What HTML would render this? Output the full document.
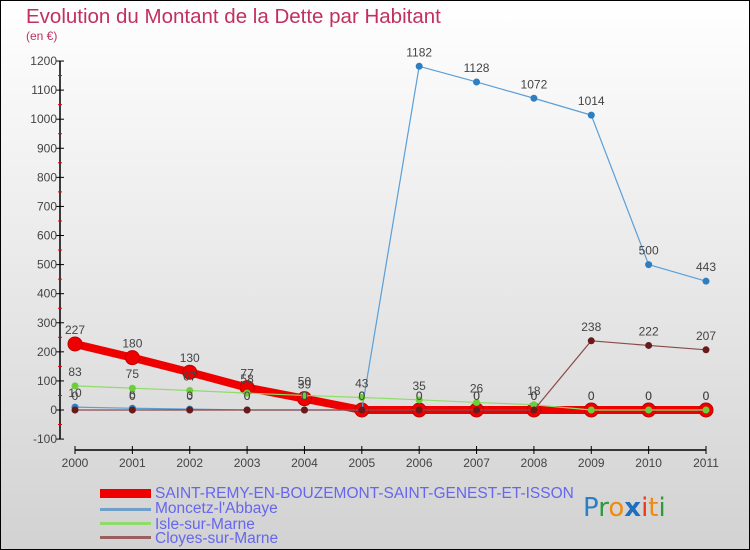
<!DOCTYPE html>
<html><head><meta charset="utf-8"><style>
html,body{margin:0;padding:0;width:750px;height:550px;overflow:hidden}
svg{display:block;font-family:"Liberation Sans",sans-serif}
</style></head><body>
<svg id="chart" width="750" height="550" viewBox="0 0 750 550">
<defs><linearGradient id="bg" x1="0" y1="0" x2="0" y2="1"><stop offset="0" stop-color="#ffffff"/><stop offset="1" stop-color="#d2d2d2"/></linearGradient></defs>
<rect x="0.5" y="0.5" width="749" height="549" fill="url(#bg)" stroke="#000" stroke-width="1"/>
<text x="26" y="23" font-size="20.5" fill="#c2305e">Evolution du Montant de la Dette par Habitant</text>
<text x="26" y="40" font-size="12" fill="#c2305e">(en €)</text>
<g id="axes"></g><g id="series"></g>
<g>
<rect x="100" y="489" width="51" height="9" fill="#ee0000"/>
<text x="155" y="498" font-size="15.5" fill="#6666ee">SAINT-REMY-EN-BOUZEMONT-SAINT-GENEST-ET-ISSON</text>
<rect x="100" y="508" width="51" height="3" fill="#6fa0c8"/>
<text x="155" y="513" font-size="15.5" fill="#6666ee">Moncetz-l'Abbaye</text>
<rect x="100" y="522" width="51" height="3" fill="#8fdc6a"/>
<text x="155" y="529" font-size="15.5" fill="#6666ee">Isle-sur-Marne</text>
<rect x="100" y="536" width="51" height="3" fill="#9a6060"/>
<text x="155" y="543" font-size="15.5" fill="#6666ee">Cloyes-sur-Marne</text>
</g>
<g font-size="26" font-family="'DejaVu Sans',sans-serif">
<text x="583" y="516"><tspan fill="#2a7fc8">P</tspan><tspan fill="#2e9a3a">r</tspan><tspan fill="#f08a10">o</tspan><tspan fill="#1f6fc0" font-weight="bold">x</tspan><tspan fill="#e83a1a">i</tspan><tspan fill="#f08a10">t</tspan><tspan fill="#2e9a3a">i</tspan></text>
</g>
</svg>
<script>
const years=["2000","2001","2002","2003","2004","2005","2006","2007","2008","2009","2010","2011"];
const yTicks=[-100,0,100,200,300,400,500,600,700,800,900,1000,1100,1200];
const saintRemy=[227,180,130,77,39,0,0,0,0,0,0,0];
const moncetz=[10,6,3,0,0,0,1182,1128,1072,1014,500,443];
const isle=[83,75,67,58,50,43,35,26,18,0,0,0];
const cloyes=[0,0,0,0,0,0,0,0,0,238,222,207];
const NS="http://www.w3.org/2000/svg";
const x0=75,x1=706,yZero=410,pxPer=0.2908;
function xs(i){return x0+(x1-x0)*i/(years.length-1);}
function ys(v){return yZero-v*pxPer;}
function mk(tag,attrs,parent){const e=document.createElementNS(NS,tag);for(const k in attrs)e.setAttribute(k,attrs[k]);parent.appendChild(e);return e;}
const axes=document.getElementById('axes'),ser=document.getElementById('series');
const ya=mk('line',{x1:60,y1:ys(1200),x2:60,y2:ys(-100),stroke:'#000','stroke-width':1.5},axes);


yTicks.forEach((t,i)=>{
  mk('line',{x1:56,x2:64,y1:ys(t),y2:ys(t),stroke:'#000'},axes);
  if(i<yTicks.length-1)mk('line',{x1:58,x2:62,y1:ys(t+50),y2:ys(t+50),stroke:'#e00'},axes);
  const tx=mk('text',{x:57,y:ys(t)+4,'text-anchor':'end','font-size':12,fill:'#444'},axes);
  tx.textContent=t;
  
  
});
const xa=mk('line',{x1:x0,y1:450,x2:x1,y2:450,stroke:'#000','stroke-width':1.5},axes);


years.forEach((y,i)=>{
  mk('line',{x1:xs(i),x2:xs(i),y1:446,y2:454,stroke:'#000'},axes);
  const tx=mk('text',{x:xs(i),y:467,'text-anchor':'middle','font-size':12,fill:'#444'},axes);
  tx.textContent=y;
  
  
});
function drawSeries(vals,name,color,lw,r,fill,ring){
  const g=mk('g',{},ser);
  
  
  const pts=vals.map((v,i)=>xs(i)+','+ys(v)).join(' ');
  mk('polyline',{points:pts,fill:'none',stroke:color,'stroke-width':lw,'stroke-linejoin':'round'},g);
  vals.forEach((v,i)=>{
    const c=mk('circle',{cx:xs(i),cy:ys(v),r:r,fill:fill,stroke:ring,'stroke-width':ring==='none'?0:1},g);
    
    
    const t=mk('text',{x:xs(i),y:ys(v)-10,'text-anchor':'middle','font-size':12,fill:'#444'},g);
    t.textContent=v;
    
    
  });
}
drawSeries(saintRemy,'saint-remy','#ee0000',8,7,'#ee0000','#c00000');
drawSeries(moncetz,'moncetz','#5a9fd8',1.2,3.5,'#2f7fc0','none');
drawSeries(isle,'isle','#8fdc6a',1.2,3.5,'#6ccf3a','none');
drawSeries(cloyes,'cloyes','#8a4a4a',1.2,3.5,'#6a1a1a','none');
</script>
</body></html>
